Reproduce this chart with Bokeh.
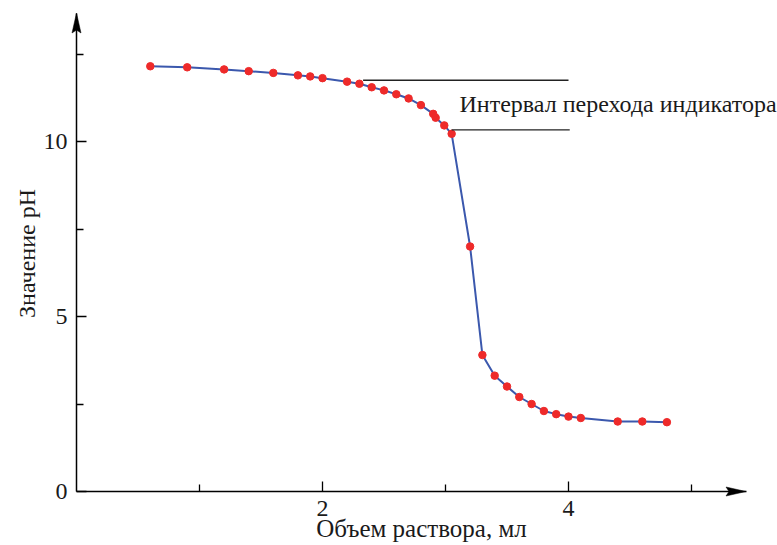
from bokeh.plotting import figure
from bokeh.models import Range1d, FixedTicker, Label
from bokeh.embed import file_html
from bokeh.resources import INLINE

# ---- data ----
volume_ml = [0.6, 0.9, 1.2, 1.4, 1.6, 1.8, 1.9, 2.0, 2.2, 2.3, 2.4, 2.5, 2.6, 2.7,
             2.8, 2.9, 2.92, 2.99, 3.05, 3.2, 3.3, 3.4, 3.5, 3.6, 3.7, 3.8, 3.9,
             4.0, 4.1, 4.4, 4.6, 4.8]
ph_value = [12.15, 12.12, 12.06, 12.01, 11.96, 11.89, 11.86, 11.81, 11.71, 11.65,
            11.55, 11.46, 11.35, 11.23, 11.04, 10.79, 10.68, 10.46, 10.22, 7.0,
            3.9, 3.31, 3.0, 2.7, 2.5, 2.3, 2.21, 2.14, 2.10, 2.0, 2.0, 1.98]

interval_upper = 11.75
interval_lower = 10.33
interval_upper_x = [2.33, 4.0]
interval_lower_x = [3.05, 4.01]

x_major_ticks = [2, 4]
x_minor_ticks = [1, 3, 5]
y_major_ticks = [0, 5, 10]
y_minor_ticks = [2.5, 7.5, 12.5]

x_label = "Объем раствора, мл"
y_label = "Значение pH"
interval_text = "Интервал перехода индикатора"

# ---- layout (pixel scale of the drawing) ----
W, H = 777, 545
ORIGIN_X, ORIGIN_Y = 76.0, 491.0   # pixel position of (0, 0)
PX_X = 123.0                       # pixels per ml
PX_Y = 35.0                        # pixels per pH unit


def dx(px):
    return (px - ORIGIN_X) / PX_X


def dy(py):
    return (ORIGIN_Y - py) / PX_Y


x_tip = dx(745.5)
y_tip = dy(12.5)

p = figure(width=W, height=H, output_backend="svg", toolbar_location=None,
           x_range=Range1d(dx(0), dx(W)), y_range=Range1d(dy(H), dy(0)),
           min_border=0, min_border_left=0, min_border_right=0,
           min_border_top=0, min_border_bottom=0)
p.outline_line_color = None
p.xgrid.visible = False
p.ygrid.visible = False
p.background_fill_color = "white"
p.border_fill_color = "white"

for ax, major, minor, bnd in ((p.xaxis[0], x_major_ticks, x_minor_ticks, (0, x_tip)),
                              (p.yaxis[0], y_major_ticks, y_minor_ticks, (0, y_tip))):
    ax.fixed_location = 0
    ax.bounds = bnd
    ax.ticker = FixedTicker(ticks=major, minor_ticks=minor)
    ax.axis_line_color = "black"
    ax.axis_line_width = 1.5
    ax.major_tick_line_color = "black"
    ax.major_tick_line_width = 1.3
    ax.minor_tick_line_color = "black"
    ax.minor_tick_line_width = 1.3
    ax.major_tick_in = 10
    ax.major_tick_out = 0
    ax.minor_tick_in = 7
    ax.minor_tick_out = 0
    ax.major_label_text_font = "Liberation Serif"
    ax.major_label_text_font_size = "24px"
    ax.major_label_text_color = "#1a1a1a"
p.xaxis[0].major_label_standoff = 9
p.yaxis[0].major_label_standoff = 9

# arrow heads on the axes (elongated triangles, ~20 px long, ~9 px wide)
hl_x, hw_y = 20 / PX_X, 4.5 / PX_Y
p.patch([x_tip, x_tip - hl_x, x_tip - hl_x * 0.85, x_tip - hl_x],
        [0, hw_y, 0, -hw_y], color="black", line_width=0.5)
hl_y, hw_x = 20 / PX_Y, 4.5 / PX_X
p.patch([0, hw_x, 0, -hw_x],
        [y_tip, y_tip - hl_y, y_tip - hl_y * 0.85, y_tip - hl_y],
        color="black", line_width=0.5)

# titration curve
p.line(volume_ml, ph_value, line_color="#3b58ad", line_width=2)
p.scatter(volume_ml, ph_value, size=7.5, fill_color="#ee2a2a", line_color="#ee2a2a")

# indicator transition interval lines
p.line(interval_upper_x, [interval_upper, interval_upper], line_color="#222222", line_width=1.3)
p.line(interval_lower_x, [interval_lower, interval_lower], line_color="#222222", line_width=1.3)
p.add_layout(Label(x=dx(459), y=dy(103.5), text=interval_text, text_font="Liberation Serif",
                   text_font_size="24px", text_color="#1a1a1a",
                   text_baseline="alphabetic", text_align="left"))

# axis titles
p.add_layout(Label(x=dx(421), y=dy(528), text=x_label,
                   text_font="Liberation Serif", text_font_size="25px",
                   text_color="#1a1a1a", text_baseline="alphabetic", text_align="center"))
p.add_layout(Label(x=dx(26), y=dy(253), text=y_label, angle=1.5707963,
                   text_font="Liberation Serif", text_font_size="24px",
                   text_color="#1a1a1a", text_baseline="alphabetic", text_align="center"))

open("out.html", "w").write(file_html(p, INLINE))
